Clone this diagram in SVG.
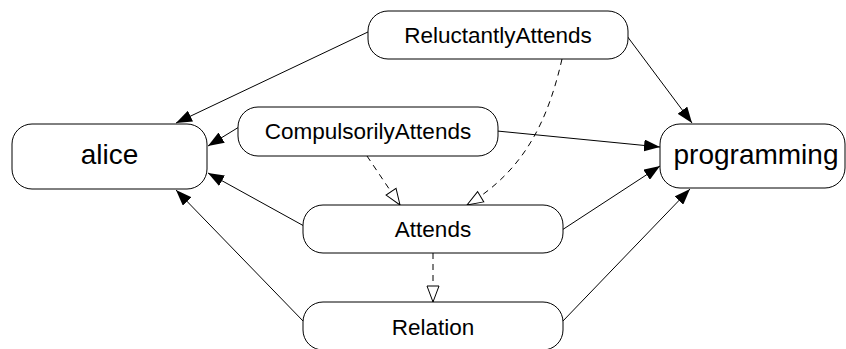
<svg xmlns="http://www.w3.org/2000/svg" width="846" height="349" viewBox="0 0 846 349">
<style>
.node rect{fill:#fff;stroke:#000;stroke-width:1}
.lbl{font-family:"Liberation Sans",Arial,sans-serif;font-size:22.5px;fill:#000;text-anchor:middle}
.big{font-size:28px}
.e{fill:none;stroke:#000;stroke-width:1}
.d{stroke-dasharray:6,5}
</style>
<defs>
<marker id="fa" markerUnits="userSpaceOnUse" markerWidth="16" markerHeight="12" refX="16" refY="6" orient="auto" viewBox="0 0 16 12">
<path d="M0,0 L16,6 L0,12 z" fill="#000"/>
</marker>
<marker id="ha" markerUnits="userSpaceOnUse" markerWidth="18" markerHeight="14" refX="17" refY="7" orient="auto" viewBox="0 0 18 14">
<path d="M1,1 L17,7 L1,13 z" fill="#fff" stroke="#000" stroke-width="1"/>
</marker>
</defs>
<rect width="846" height="349" fill="#fff"/>
<g id="connectors">
<line class="e" x1="370" y1="31" x2="176" y2="123" marker-end="url(#fa)"/>
<line class="e" x1="627" y1="36" x2="692" y2="123" marker-end="url(#fa)"/>
<line class="e" x1="239" y1="127" x2="208" y2="146" marker-end="url(#fa)"/>
<line class="e" x1="497" y1="131" x2="660" y2="147" marker-end="url(#fa)"/>
<line class="e" x1="304" y1="226" x2="208" y2="173" marker-end="url(#fa)"/>
<line class="e" x1="562" y1="230" x2="660" y2="166" marker-end="url(#fa)"/>
<line class="e" x1="304" y1="322" x2="176" y2="190" marker-end="url(#fa)"/>
<line class="e" x1="562" y1="322" x2="690" y2="189" marker-end="url(#fa)"/>
<line class="e d" x1="367" y1="156" x2="400" y2="205" marker-end="url(#ha)"/>
<path class="e d" d="M562,59 C548,120 525,170 467,205" marker-end="url(#ha)"/>
<line class="e d" x1="433" y1="253" x2="433" y2="302" marker-end="url(#ha)"/>
</g>
<g id="ReluctantlyAttends" class="node">
<rect x="368" y="11" width="260" height="48" rx="20"/>
<text class="lbl" x="498" y="43">ReluctantlyAttends</text>
</g>
<g id="CompulsorilyAttends" class="node">
<rect x="238" y="107" width="260" height="49" rx="20"/>
<text class="lbl" x="368" y="139">CompulsorilyAttends</text>
</g>
<g id="alice" class="node">
<rect x="12" y="124" width="195" height="65" rx="20"/>
<text class="lbl big" x="109.5" y="164">alice</text>
</g>
<g id="programming" class="node">
<rect x="660" y="124" width="185" height="64" rx="20"/>
<text class="lbl big" x="756" y="164">programming</text>
</g>
<g id="Attends" class="node">
<rect x="303" y="205" width="260" height="48" rx="20"/>
<text class="lbl" x="433" y="237">Attends</text>
</g>
<g id="Relation" class="node">
<rect x="303" y="302" width="260" height="48" rx="20"/>
<text class="lbl" x="433" y="335">Relation</text>
</g>
</svg>
